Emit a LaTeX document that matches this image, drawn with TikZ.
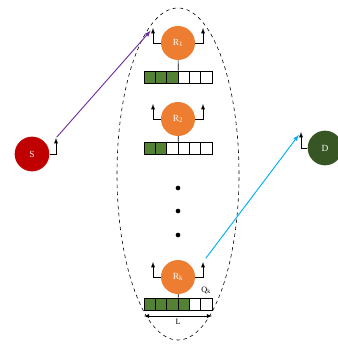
\documentclass[tikz,border=0pt]{standalone}
\usepackage{fontspec}
\setmainfont{Liberation Serif}
\usepackage{xcolor}
\usetikzlibrary{arrows,shapes,positioning,calc}

\definecolor{relayorange}{HTML}{ED7D31}
\definecolor{bufgreen}{HTML}{548235}
\definecolor{srcred}{HTML}{C00000}
\definecolor{dstgreen}{HTML}{375623}
\definecolor{hopone}{HTML}{7030A0}
\definecolor{hoptwo}{HTML}{00B0F0}

\begin{document}
\begin{tikzpicture}[x=0.03cm, y=-0.03cm, font=\footnotesize,
  router/.style={circle, minimum size=1.02cm, inner sep=0pt, fill=relayorange, text=white},
  endnode/.style={circle, minimum size=1.04cm, inner sep=0pt, text=white},
  cell/.style={rectangle, draw=black, line width=0.5pt, minimum width=0.339cm, minimum height=0.36cm, inner sep=0pt},
  ant/.style={-latex, line width=0.6pt},
  hop/.style={-latex, line width=0.8pt, shorten >=3pt, shorten <=1pt}]

\useasboundingbox (0,0) rectangle (337,347);

% cluster of relays
\draw[dashed, line width=0.5pt] (178,174) ellipse [x radius=1.83cm, y radius=4.98cm];

% relays
\node[router] (R1) at (178,43) {R\textsubscript{1}};
\node[router] (R2) at (178,119) {R\textsubscript{2}};
\node[router] (Rk) at (178,277) {R\textsubscript{k}};

% buffers
\foreach \b/\y/\n in {b1/77/3, b2/148/2, bk/304/4} {
  \foreach \i in {1,...,6} {
    \ifnum\i>\n \def\cellcol{white}\else\def\cellcol{bufgreen}\fi
    \node[cell, fill=\cellcol] (\b-\i) at ({144+(\i-0.5)*11.3}, \y) {};
  }
}
\draw[line width=0.6pt] (R1) -- (b1-3.north east);
\draw[line width=0.6pt] (R2) -- (b2-3.north east);
\draw[line width=0.6pt] (Rk) -- (bk-3.north east);

% antennas of the relays
\foreach \r/\t in {R1/28, R2/104, Rk/262} {
  \coordinate (\r-l) at (153,\t);
  \coordinate (\r-r) at (203,\t);
  \draw[ant] (\r.west) -| (\r-l);
  \draw[ant] (\r.east) -| (\r-r);
}

% dots
\node[circle, fill=black, inner sep=1.4pt] (d1) at (178,188) {};
\node[circle, fill=black, inner sep=1.4pt] (d2) at (178,211) {};
\node[circle, fill=black, inner sep=1.4pt] (d3) at (178,235) {};

% queue label and length
\node[font=\scriptsize, anchor=south] (Qk) at (bk-6.north) {Q\textsubscript{k}};
\coordinate (Ll) at (144,316);
\coordinate (Lr) at (212,316);
\draw[latex-latex, line width=0.5pt] (Ll) -- (Lr);
\node[font=\scriptsize] (L) at (178,322) {L};

% source and destination
\node[endnode, fill=srcred] (S) at (32,154) {S};
\node[endnode, fill=dstgreen] (D) at (325,148) {D};
\coordinate (S-a) at (56,138);
\coordinate (D-a) at (301,132);
\draw[ant] (S.east) -| (S-a);
\draw[ant] (D.west) -| (D-a);

% hops
\draw[hop, hopone] (S-a) -- (R1-l);
\draw[hop, hoptwo, shorten <=4pt] (Rk-r) -- (D-a);

\end{tikzpicture}
\end{document}
